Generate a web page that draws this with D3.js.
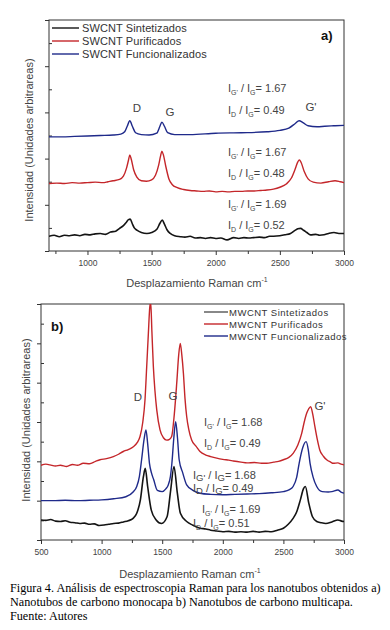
<!DOCTYPE html>
<html>
<head>
<meta charset="utf-8">
<script src="https://cdn.jsdelivr.net/npm/d3@7"></script>
<style>
  body { margin: 0; background: #fff; }
  svg text { font-family: "Liberation Sans", Arial, sans-serif; }
</style>
</head>
<body>
<div id="chart"></div>
<script>
// ---- panel a) SWCNT: [Raman shift cm-1, intensity a.u.]
const swSintetizados = [[700,0.32],[740,0.34],[780,0.31],[820,0.34],[860,0.33],[900,0.35],[940,0.33],[980,0.36],[1020,0.35],[1060,0.37],[1100,0.38],[1140,0.36],[1180,0.41],[1220,0.43],[1250,0.49],[1280,0.55],[1305,0.63],[1320,0.68],[1333,0.69],[1348,0.6],[1365,0.5],[1385,0.45],[1420,0.4],[1463,0.38],[1500,0.4],[1541,0.47],[1565,0.6],[1583,0.67],[1600,0.58],[1620,0.46],[1645,0.38],[1680,0.33],[1723,0.31],[1760,0.3],[1800,0.32],[1840,0.28],[1880,0.29],[1920,0.27],[1960,0.29],[2000,0.27],[2040,0.28],[2088,0.24],[2140,0.29],[2180,0.27],[2220,0.29],[2260,0.28],[2295,0.29],[2340,0.3],[2380,0.29],[2420,0.32],[2451,0.32],[2500,0.33],[2540,0.35],[2583,0.38],[2615,0.44],[2640,0.48],[2661,0.49],[2685,0.45],[2710,0.4],[2739,0.35],[2780,0.36],[2810,0.34],[2844,0.35],[2880,0.38],[2922,0.4],[2960,0.38],[3000,0.38]];
const swPurificados = [[700,1.46],[760,1.47],[820,1.46],[880,1.48],[940,1.47],[1000,1.48],[1060,1.49],[1120,1.48],[1160,1.5],[1200,1.52],[1250,1.55],[1280,1.62],[1305,1.8],[1320,1.97],[1330,2.08],[1342,1.98],[1360,1.76],[1385,1.6],[1420,1.52],[1460,1.51],[1500,1.54],[1530,1.64],[1555,1.86],[1570,2.06],[1580,2.16],[1592,2.08],[1610,1.84],[1635,1.56],[1660,1.44],[1700,1.37],[1750,1.33],[1800,1.31],[1850,1.3],[1900,1.29],[1950,1.3],[2000,1.28],[2050,1.29],[2100,1.28],[2150,1.29],[2200,1.29],[2250,1.3],[2300,1.3],[2350,1.31],[2400,1.32],[2450,1.34],[2500,1.38],[2550,1.45],[2590,1.58],[2620,1.78],[2640,1.93],[2652,1.97],[2665,1.92],[2690,1.72],[2720,1.56],[2760,1.49],[2820,1.47],[2880,1.5],[2930,1.52],[2970,1.5],[3000,1.48]];
const swFuncionalizados = [[700,2.47],[800,2.47],[900,2.48],[1000,2.49],[1100,2.5],[1200,2.51],[1260,2.53],[1290,2.58],[1310,2.7],[1330,2.82],[1350,2.7],[1375,2.56],[1420,2.52],[1480,2.51],[1540,2.55],[1565,2.7],[1580,2.79],[1600,2.7],[1625,2.56],[1680,2.52],[1800,2.52],[2000,2.55],[2200,2.56],[2400,2.58],[2500,2.61],[2570,2.66],[2620,2.76],[2650,2.82],[2680,2.78],[2720,2.71],[2790,2.69],[2850,2.7],[2920,2.71],[3000,2.72]];

// ---- panel b) MWCNT
const mwSintetizados = [[500,0.51],[540,0.5],[580,0.52],[620,0.48],[660,0.47],[700,0.49],[740,0.45],[780,0.44],[820,0.42],[860,0.43],[900,0.4],[940,0.41],[980,0.37],[1020,0.38],[1060,0.4],[1100,0.42],[1140,0.43],[1180,0.46],[1220,0.49],[1260,0.55],[1290,0.68],[1320,1.02],[1345,1.61],[1360,1.82],[1380,1.36],[1410,0.76],[1450,0.51],[1495,0.42],[1540,0.59],[1570,1.27],[1597,1.87],[1625,1.19],[1650,0.68],[1702,0.47],[1750,0.38],[1812,0.3],[1860,0.28],[1900,0.25],[1950,0.23],[2000,0.21],[2050,0.22],[2100,0.2],[2150,0.21],[2200,0.2],[2250,0.22],[2300,0.2],[2350,0.22],[2400,0.21],[2450,0.25],[2500,0.3],[2540,0.4],[2580,0.55],[2610,0.72],[2640,1.02],[2665,1.3],[2681,1.36],[2710,0.93],[2740,0.59],[2775,0.47],[2810,0.44],[2850,0.42],[2900,0.46],[2950,0.51],[2980,0.48],[3000,0.47]];
const mwPurificados = [[500,1.9],[540,1.93],[574,1.91],[620,1.88],[660,1.9],[712,1.87],[760,1.92],[800,1.9],[849,1.95],[900,1.94],[950,2.0],[987,2.04],[1040,2.07],[1097,2.12],[1140,2.18],[1179,2.25],[1220,2.3],[1262,2.37],[1295,2.48],[1317,2.63],[1340,3.0],[1358,3.56],[1372,4.4],[1386,5.26],[1397,5.9],[1405,6.05],[1415,5.3],[1427,4.41],[1440,3.8],[1455,3.31],[1482,2.8],[1510,2.6],[1537,2.54],[1560,2.56],[1578,2.63],[1600,3.2],[1620,3.99],[1636,4.7],[1649,5.0],[1662,4.7],[1675,4.24],[1688,3.6],[1702,3.14],[1720,2.8],[1743,2.54],[1780,2.38],[1812,2.25],[1860,2.16],[1900,2.12],[1950,2.08],[2000,2.05],[2050,2.03],[2087,2.01],[2150,1.98],[2200,1.96],[2260,1.97],[2320,1.95],[2362,1.95],[2420,1.98],[2460,2.0],[2500,2.04],[2545,2.1],[2582,2.21],[2620,2.42],[2651,2.71],[2672,3.0],[2692,3.22],[2708,3.33],[2725,3.39],[2742,3.2],[2760,2.88],[2780,2.55],[2800,2.29],[2830,2.13],[2857,2.04],[2890,1.98],[2911,1.95],[2950,1.96],[2975,1.93],[3000,1.91]];
const mwFuncionalizados = [[500,1.0],[600,1.0],[700,1.01],[800,1.0],[900,1.01],[1000,1.02],[1100,1.05],[1200,1.1],[1260,1.22],[1290,1.36],[1312,1.62],[1330,2.04],[1350,2.55],[1366,2.8],[1380,2.45],[1395,1.95],[1412,1.7],[1430,1.53],[1460,1.26],[1500,1.23],[1530,1.3],[1550,1.4],[1568,1.62],[1580,1.95],[1596,2.6],[1611,3.01],[1626,2.6],[1640,2.04],[1670,1.7],[1702,1.4],[1750,1.27],[1812,1.19],[1900,1.16],[2000,1.15],[2100,1.16],[2200,1.17],[2300,1.18],[2400,1.2],[2500,1.23],[2550,1.28],[2580,1.36],[2610,1.6],[2630,1.95],[2660,2.35],[2687,2.5],[2705,2.3],[2720,1.95],[2745,1.6],[2775,1.36],[2820,1.23],[2870,1.22],[2900,1.23],[2950,1.27],[2975,1.22],[3000,1.19]];

const swLabels = ["SWCNT Sintetizados", "SWCNT Purificados", "SWCNT Funcionalizados"];
const mwLabels = ["MWCNT Sintetizados", "MWCNT Purificados", "MWCNT Funcionalizados"];
const seriesColors = ["#141414", "#c4262a", "#1f2a8a"];
const legendColorsB = ["#555555", "#c4262a", "#1f2a8a"];

const swRatios = [["1.69", "0.52"], ["1.67", "0.48"], ["1.67", "0.49"]];
const mwRatios = [["1.69", "0.51"], ["1.68", "0.49"], ["1.68", "0.49"]];

const W = 390, H = 630;
const svg = d3.select("#chart").append("svg")
    .attr("width", W)
    .attr("height", H);

const axisColor = "#333";
const textColor = "#444";

function drawPanel(cfg) {
    const x = d3.scaleLinear().domain(cfg.xDomain).range([cfg.left, cfg.right]);
    const y = d3.scaleLinear().domain(cfg.yDomain).range([cfg.bottom, cfg.top]);
    const g = svg.append("g");

    const clipId = "clip-" + cfg.name;
    svg.append("clipPath").attr("id", clipId)
        .append("rect")
        .attr("x", cfg.left).attr("y", cfg.top)
        .attr("width", cfg.right - cfg.left).attr("height", cfg.bottom - cfg.top);

    // minor ticks (x outward short, y inward)
    const xMinor = g.append("g")
        .attr("transform", "translate(0," + cfg.bottom + ")")
        .call(d3.axisBottom(x).tickValues(cfg.xMinor).tickSize(3).tickFormat(""));
    const xMajor = g.append("g")
        .attr("transform", "translate(0," + cfg.bottom + ")")
        .call(d3.axisBottom(x).tickValues(cfg.xMajor).tickSize(4).tickPadding(5).tickFormat(d3.format("d")));
    const yMajor = g.append("g")
        .attr("transform", "translate(" + cfg.left + ",0)")
        .call(d3.axisLeft(y).tickValues(cfg.yMajor).tickSize(4).tickFormat(""));
    const yMinor = g.append("g")
        .attr("transform", "translate(" + cfg.left + ",0)")
        .call(d3.axisRight(y).tickValues(cfg.yMinor).tickSize(3).tickFormat(""));

    [xMinor, xMajor, yMajor, yMinor].forEach(a => {
        a.select(".domain").remove();
        a.selectAll("line").attr("stroke", axisColor);
    });
    xMajor.selectAll("text")
        .attr("fill", textColor)
        .style("font-size", "8.5px");

    g.append("rect")
        .attr("x", cfg.left).attr("y", cfg.top)
        .attr("width", cfg.right - cfg.left).attr("height", cfg.bottom - cfg.top)
        .attr("fill", "none")
        .attr("stroke", axisColor)
        .attr("stroke-width", 1);

    const line = d3.line()
        .x(d => x(d[0]))
        .y(d => y(d[1]))
        .curve(d3.curveMonotoneX);

    g.append("g").attr("clip-path", "url(#" + clipId + ")")
        .selectAll("path")
        .data(cfg.series)
        .join("path")
        .attr("d", d => line(d))
        .attr("fill", "none")
        .attr("stroke", (d, i) => seriesColors[i])
        .attr("stroke-width", (d, i) => i == 0 ? 1.6 : 1.4);

    // axis titles
    const xt = g.append("text")
        .attr("x", cfg.xTitle[0]).attr("y", cfg.xTitle[1])
        .attr("text-anchor", "middle")
        .attr("fill", textColor)
        .style("font-size", "11px")
        .text("Desplazamiento Raman cm");
    xt.append("tspan").attr("dy", -5).style("font-size", "7px").text("-1");

    g.append("text")
        .attr("transform", "translate(" + cfg.yTitle[0] + "," + cfg.yTitle[1] + ") rotate(-90)")
        .attr("text-anchor", "middle")
        .attr("fill", textColor)
        .style("font-size", "11px")
        .text("Intensidad (Unidades arbitrareas)");

    // legend
    const lg = g.append("g");
    cfg.legendLabels.forEach((lab, i) => {
        const ly = cfg.legend.y + i * cfg.legend.dy;
        lg.append("line")
            .attr("x1", cfg.legend.x1).attr("x2", cfg.legend.x2)
            .attr("y1", ly).attr("y2", ly)
            .attr("stroke", cfg.legendColors[i])
            .attr("stroke-width", 1.4);
        lg.append("text")
            .attr("x", cfg.legend.tx).attr("y", ly + 4)
            .attr("fill", "#333")
            .style("font-size", cfg.legend.size)
            .style("letter-spacing", cfg.legend.spacing)
            .text(lab);
    });

    // panel tag
    g.append("text")
        .attr("x", cfg.tag[0]).attr("y", cfg.tag[1])
        .attr("fill", "#111")
        .style("font-size", "13px")
        .style("font-weight", "bold")
        .text(cfg.tagText);

    // peak letters
    cfg.peaks.forEach(p => {
        g.append("text")
            .attr("x", p[1]).attr("y", p[2])
            .attr("text-anchor", "middle")
            .attr("fill", textColor)
            .style("font-size", "11.5px")
            .text(p[0]);
    });

    // intensity ratios
    cfg.ratioPos.forEach((pos, i) => {
        ratioLabel(g, pos[0], pos[1], "G'", cfg.ratios[i][0], pos[4]);
        ratioLabel(g, pos[2], pos[3], "D", cfg.ratios[i][1], pos[4]);
    });
}

function ratioLabel(g, x0, y0, sub1, val, big) {
    const subSize = big ? "9.5px" : "7px";
    const subDy = big ? 2 : 3;
    const t = g.append("text")
        .attr("x", x0).attr("y", y0)
        .attr("fill", textColor)
        .style("font-size", "11px");
    t.append("tspan").text("I");
    t.append("tspan").attr("dy", subDy).style("font-size", subSize).text(sub1);
    t.append("tspan").attr("dy", -subDy).text(" / I");
    t.append("tspan").attr("dy", subDy).style("font-size", subSize).text("G");
    t.append("tspan").attr("dy", -subDy).text("= " + val);
}

drawPanel({
    name: "a",
    xDomain: [700, 3000], yDomain: [0, 5],
    left: 49, right: 344, top: 20, bottom: 251,
    xMajor: [1000, 1500, 2000, 2500, 3000],
    xMinor: [750, 1250, 1750, 2250, 2750],
    yMajor: [0, 1, 2, 3, 4, 5],
    yMinor: [0.5, 1.5, 2.5, 3.5, 4.5],
    series: [swSintetizados, swPurificados, swFuncionalizados],
    legendLabels: swLabels,
    legendColors: seriesColors,
    legend: { x1: 52, x2: 79, tx: 82, y: 28, dy: 13, size: "11px", spacing: "0.1px" },
    tag: [321, 40], tagText: "a)",
    xTitle: [197, 287], yTitle: [33, 140],
    peaks: [["D", 137, 112], ["G", 170, 116], ["G'", 311, 111]],
    ratios: swRatios,
    ratioPos: [[228, 208, 228, 229], [228, 156, 228, 177], [228, 92, 228, 114]]
});

drawPanel({
    name: "b",
    xDomain: [500, 3000], yDomain: [0, 6],
    left: 41, right: 344, top: 304, bottom: 540,
    xMajor: [500, 1000, 1500, 2000, 2500, 3000],
    xMinor: [750, 1250, 1750, 2250, 2750],
    yMajor: [0, 1, 2, 3, 4, 5, 6],
    yMinor: [0.5, 1.5, 2.5, 3.5, 4.5, 5.5],
    series: [mwSintetizados, mwPurificados, mwFuncionalizados],
    legendLabels: mwLabels,
    legendColors: legendColorsB,
    legend: { x1: 204, x2: 228, tx: 229, y: 312, dy: 12, size: "9.5px", spacing: "0.5px" },
    tag: [51, 331], tagText: "b)",
    xTitle: [190, 578], yTitle: [30, 420],
    peaks: [["D", 138, 401], ["G", 173, 400], ["G'", 320, 410]],
    ratios: mwRatios,
    ratioPos: [[202, 513, 193, 527, false], [193, 479, 193, 492, true], [204, 426, 204, 447, false]]
});

// caption
const captionLines = [
    "Figura 4. Análisis de espectroscopia Raman para los nanotubos obtenidos a)",
    "Nanotubos de carbono monocapa b) Nanotubos de carbono multicapa.",
    "Fuente: Autores"
];
svg.append("g").selectAll("text")
    .data(captionLines)
    .join("text")
    .attr("x", 10)
    .attr("y", (d, i) => 592 + i * 14)
    .attr("fill", "#000")
    .style("font-family", "'Liberation Serif', 'Times New Roman', serif")
    .style("font-size", "12.2px")
    .text(d => d);
</script>
</body>
</html>
